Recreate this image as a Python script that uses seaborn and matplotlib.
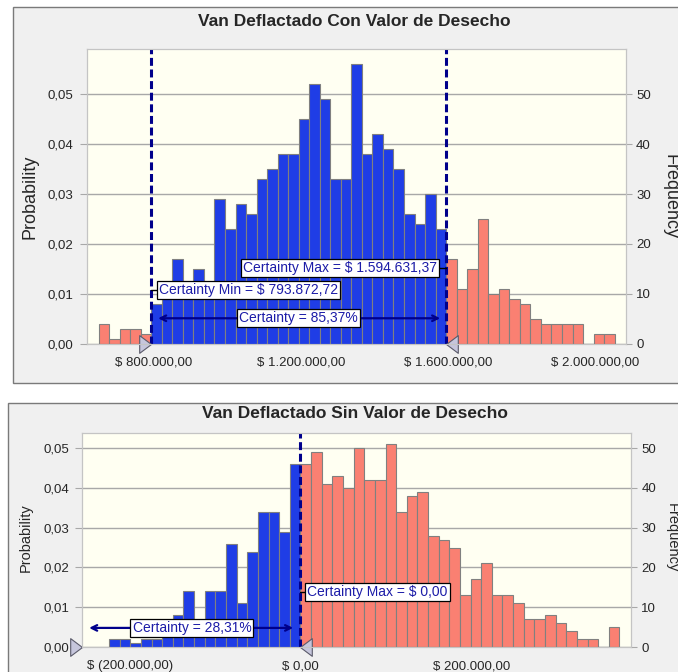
import numpy as np
import pandas as pd
import matplotlib
matplotlib.use("Agg")
import matplotlib.pyplot as plt
from matplotlib.patches import Rectangle
from matplotlib.ticker import FuncFormatter
import seaborn as sns

# ---- data ----
trials = 1000

top_title = "Van Deflactado Con Valor de Desecho"
top_cert_min = 793872.72
top_cert_max = 1594631.37
top_cert_label = "Certainty = 85,37%"
top_n_certain = 28          # bins inside the certainty range
top_n_left = 5              # bins left of it
top_counts = [4, 1, 3, 3, 2,
              8, 11, 17, 12, 15, 12, 29, 23, 28, 26, 33, 35, 38, 38, 45, 52, 49,
              33, 33, 56, 38, 42, 39, 35, 26, 24, 30, 23,
              17, 11, 15, 25, 10, 11, 9, 8, 5, 4, 4, 4, 4, 0, 2, 2]
top_xticks = [800000, 1200000, 1600000, 2000000]
top_xlim = (618000, 2082000)
top_ylim = 0.0591

bot_title = "Van Deflactado Sin Valor de Desecho"
bot_cert_max = 0.0
bot_cert_label = "Certainty = 28,31%"
bot_bin_width = 12450
bot_n_certain = 18
bot_counts = [2, 2, 1, 2, 2, 3, 8, 14, 5, 14, 14, 26, 11, 24, 34, 34, 29, 46,
              46, 49, 41, 43, 40, 50, 42, 42, 51, 34, 38, 39, 28, 27, 25, 13, 17, 21,
              13, 13, 11, 7, 7, 8, 6, 4, 2, 2, 0, 5]
bot_xticks = [-200000, 0, 200000]
bot_xlim = (-255700, 387000)
bot_ylim = 0.0538

prob_ticks = [0.0, 0.01, 0.02, 0.03, 0.04, 0.05]
freq_ticks = [0, 10, 20, 30, 40, 50]

BLUE = "#1f3de6"
SALMON = "#fa8072"
NAVY = "#00008b"
TXT = "#1c1ca8"

sns.set_style("white")
plt.rcParams["font.family"] = ["Liberation Sans", "DejaVu Sans"]


def money(v, pos=None):
    s = f"{abs(v):,.2f}".replace(",", "X").replace(".", ",").replace("X", ".")
    return f"$ ({s})" if v < 0 else f"$ {s}"


def prob_fmt(v, pos=None):
    return f"{v:.2f}".replace(".", ",")


def draw_hist(ax, edges, counts, n_left, n_in):
    centers = (edges[:-1] + edges[1:]) / 2
    df = pd.DataFrame({"x": centers, "p": np.array(counts) / trials})
    inside = df.iloc[n_left:n_left + n_in]
    outside = pd.concat([df.iloc[:n_left], df.iloc[n_left + n_in:]])
    kw = dict(x="x", weights="p", bins=list(edges), stat="count", alpha=1,
              edgecolor="#808080", linewidth=0.8, ax=ax, zorder=3)
    sns.histplot(data=outside, color=SALMON, **kw)
    sns.histplot(data=inside, color=BLUE, **kw)


def style_axes(ax, xlim, ylim, xticks, tick_fs):
    ax.set_facecolor("#fffff2")
    ax.set_xlim(*xlim)
    ax.set_ylim(0, ylim)
    ax.set_xticks(xticks)
    ax.set_yticks(prob_ticks)
    ax.xaxis.set_major_formatter(FuncFormatter(money))
    ax.yaxis.set_major_formatter(FuncFormatter(prob_fmt))
    ax.set_xlabel("")
    ax.set_ylabel("")
    ax.set_axisbelow(True)
    ax.yaxis.grid(True, color="#a8a8a8", lw=1.0)
    for s in ax.spines.values():
        s.set_color("#c4c4c4")
    ax.tick_params(axis="y", length=4.7, pad=4.5, color="#a8a8a8", labelsize=tick_fs)
    ax.tick_params(axis="x", length=3.4, pad=6, color="#a8a8a8", labelsize=tick_fs)
    ax2 = ax.twinx()
    ax2.set_ylim(0, ylim * trials)
    ax2.set_yticks(freq_ticks)
    ax2.tick_params(axis="y", length=4, pad=3.5, color="#a8a8a8", labelsize=tick_fs)
    for s in ax2.spines.values():
        s.set_color("#c4c4c4")
    return ax2


def triangle(ax, x, direction):
    verts = [(0, 0), (-1, 0.75), (-1, -0.75), (0, 0)] if direction == "right" \
        else [(0, 0), (1, 0.75), (1, -0.75), (0, 0)]
    ax.plot([x], [0], marker=verts, markersize=17, color="#c6c6dc",
            markeredgecolor="#5a5a6a", markeredgewidth=0.8, clip_on=False, zorder=8)


def label_box(ax, x, y, text, ha):
    ax.text(x, y, text, ha=ha, va="center", fontsize=10, color=TXT, zorder=7,
            bbox=dict(boxstyle="square,pad=0.15", fc="white", ec="black", lw=0.9))


fig = plt.figure(figsize=(6.78, 6.72), dpi=100)
fig.patch.set_facecolor("white")
fig.patches.append(Rectangle((13 / 678, 1 - 383 / 672), 1.0, 376 / 672, transform=fig.transFigure,
                             fc="#f0f0f0", ec="#7a7a7a", lw=1.0, zorder=-5))
fig.patches.append(Rectangle((8 / 678, -0.01), 1.0, 1 - 403 / 672 + 0.01, transform=fig.transFigure,
                             fc="#f0f0f0", ec="#7a7a7a", lw=1.0, zorder=-5))

# ---- top chart ----
ax = fig.add_axes([86.5 / 678, 1 - 343.7 / 672, 539.1 / 678, 294.7 / 672])
w = (top_cert_max - top_cert_min) / top_n_certain
top_edges = top_cert_min + w * np.arange(-top_n_left, len(top_counts) - top_n_left + 1)
draw_hist(ax, top_edges, top_counts, top_n_left, top_n_certain)
style_axes(ax, top_xlim, top_ylim, top_xticks, 9.5)
for xv in (top_cert_min, top_cert_max):
    ax.axvline(xv, color=NAVY, lw=2.2, ls=(0, (2.6, 1.2)), zorder=5)
label_box(ax, 1570000, 0.0151, f"Certainty Max = {money(top_cert_max)}", "right")
ax.plot([1570000, top_cert_max], [0.0151, 0.0151], color="black", lw=1, zorder=6)
label_box(ax, 815000, 0.0108, f"Certainty Min = {money(top_cert_min)}", "left")
ax.plot([top_cert_min, 815000], [0.0108, 0.0108], color="black", lw=1, zorder=6)
ax.annotate("", xy=(805000, 0.0051), xytext=(1586000, 0.0051),
            arrowprops=dict(arrowstyle="<->", color=NAVY, lw=1.6), zorder=6)
label_box(ax, 1193500, 0.0051, top_cert_label, "center")
triangle(ax, top_cert_min, "right")
triangle(ax, top_cert_max, "left")
fig.text(354 / 678, 1 - 21 / 672, top_title, ha="center", va="center", fontsize=12.5, fontweight="bold")
fig.text(30 / 678, 1 - 197 / 672, "Probability", ha="center", va="center", rotation=90, fontsize=13)
fig.text(670 / 678, 1 - 197 / 672, "Frequency", ha="center", va="center", rotation=270, fontsize=13)

# ---- bottom chart ----
bx = fig.add_axes([82 / 678, 1 - 647 / 672, 549 / 678, 214 / 672])
bot_edges = bot_cert_max + bot_bin_width * np.arange(-bot_n_certain, len(bot_counts) - bot_n_certain + 1)
draw_hist(bx, bot_edges, bot_counts, 0, bot_n_certain)
style_axes(bx, bot_xlim, bot_ylim, bot_xticks, 9.5)
bx.axvline(bot_cert_max, color=NAVY, lw=2.2, ls=(0, (2.6, 1.2)), zorder=5)
label_box(bx, 8000, 0.0139, f"Certainty Max = {money(bot_cert_max)}", "left")
bx.plot([bot_cert_max, 8000], [0.0139, 0.0139], color="black", lw=1, zorder=6)
bx.annotate("", xy=(-250600, 0.0048), xytext=(-5300, 0.0048),
            arrowprops=dict(arrowstyle="<->", color=NAVY, lw=1.6), zorder=6)
label_box(bx, -127000, 0.0048, bot_cert_label, "center")
triangle(bx, bot_xlim[0], "right")
triangle(bx, bot_cert_max, "left")
fig.text(355 / 678, 1 - 413 / 672, bot_title, ha="center", va="center", fontsize=12.5, fontweight="bold")
fig.text(26 / 678, 1 - 538 / 672, "Probability", ha="center", va="center", rotation=90, fontsize=10.5)
fig.text(672 / 678, 1 - 538 / 672, "Frequency", ha="center", va="center", rotation=270, fontsize=10.5)

fig.savefig("out.png", dpi=100)
